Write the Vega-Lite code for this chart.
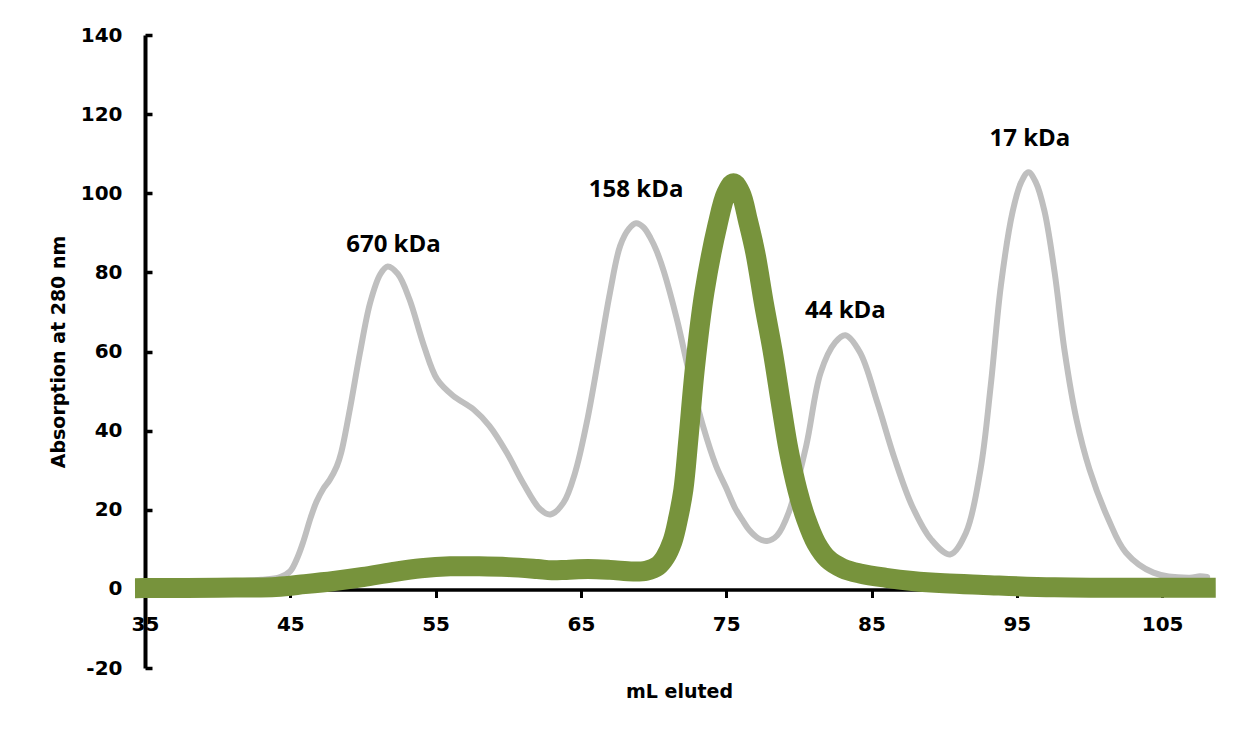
{
  "$schema": "https://vega.github.io/schema/vega-lite/v6.json",
  "autosize": {"type": "none"},
  "padding": {"left": 145, "top": 35, "right": 40, "bottom": 70},
  "width": 1068,
  "height": 633,
  "background": "white",
  "config": {"view": {"stroke": null}},
  "datasets": {
    "standards": [
      {"ml": 35, "a280": 1.5}, {"ml": 40, "a280": 1.8}, {"ml": 43, "a280": 2.3}, {"ml": 44.3, "a280": 3},
      {"ml": 45, "a280": 4.5}, {"ml": 45.5, "a280": 8}, {"ml": 45.9, "a280": 12}, {"ml": 46.4, "a280": 18},
      {"ml": 46.8, "a280": 22}, {"ml": 47.3, "a280": 25.5}, {"ml": 47.7, "a280": 27.5}, {"ml": 48.2, "a280": 31},
      {"ml": 48.5, "a280": 34.4}, {"ml": 49.1, "a280": 45.4}, {"ml": 49.8, "a280": 59.8}, {"ml": 50.5, "a280": 72.4},
      {"ml": 51.2, "a280": 79.6}, {"ml": 51.7, "a280": 81.5}, {"ml": 52.4, "a280": 79.6}, {"ml": 53.2, "a280": 73.2},
      {"ml": 54.2, "a280": 61.4}, {"ml": 55.1, "a280": 53.0}, {"ml": 56.2, "a280": 48.8}, {"ml": 57.6, "a280": 45.4},
      {"ml": 58.7, "a280": 41.2}, {"ml": 59.9, "a280": 34.4}, {"ml": 61.0, "a280": 26.9}, {"ml": 62.2, "a280": 20.1},
      {"ml": 62.9, "a280": 18.8}, {"ml": 63.8, "a280": 21.8}, {"ml": 64.6, "a280": 29.4}, {"ml": 65.4, "a280": 42.0},
      {"ml": 66.2, "a280": 58.1}, {"ml": 67.0, "a280": 74.9}, {"ml": 67.7, "a280": 86.7}, {"ml": 68.3, "a280": 91},
      {"ml": 68.8, "a280": 92.4}, {"ml": 69.3, "a280": 91.4}, {"ml": 69.8, "a280": 88.6}, {"ml": 70.2, "a280": 85.5},
      {"ml": 70.7, "a280": 80.3}, {"ml": 71.6, "a280": 68.2}, {"ml": 72.5, "a280": 53.8}, {"ml": 73.4, "a280": 41.2},
      {"ml": 74.3, "a280": 31.1}, {"ml": 75.0, "a280": 25.5}, {"ml": 75.6, "a280": 20.5}, {"ml": 76.1, "a280": 17.5},
      {"ml": 76.6, "a280": 14.8}, {"ml": 77.2, "a280": 12.8}, {"ml": 77.8, "a280": 12.1}, {"ml": 78.5, "a280": 13.5},
      {"ml": 79.3, "a280": 19.3}, {"ml": 80.5, "a280": 36.1}, {"ml": 81.5, "a280": 54.7}, {"ml": 82.5, "a280": 62.3},
      {"ml": 83.2, "a280": 64.1}, {"ml": 84.2, "a280": 59.8}, {"ml": 85.4, "a280": 47.1}, {"ml": 86.6, "a280": 32.8},
      {"ml": 87.8, "a280": 20.9}, {"ml": 89.1, "a280": 12.5}, {"ml": 90.4, "a280": 8.7}, {"ml": 91.5, "a280": 14.2},
      {"ml": 92.5, "a280": 30.2}, {"ml": 93.2, "a280": 51.3}, {"ml": 93.9, "a280": 76.6}, {"ml": 94.7, "a280": 95.2},
      {"ml": 95.3, "a280": 102.8}, {"ml": 95.8, "a280": 105.3}, {"ml": 96.3, "a280": 102.8}, {"ml": 96.9, "a280": 95.5},
      {"ml": 97.6, "a280": 80}, {"ml": 98.3, "a280": 59.8}, {"ml": 99.1, "a280": 42.9}, {"ml": 100.0, "a280": 30.2},
      {"ml": 101.3, "a280": 17.6}, {"ml": 102.5, "a280": 9.2}, {"ml": 104.4, "a280": 4.1}, {"ml": 106.9, "a280": 2.8},
      {"ml": 107.6, "a280": 3.2}, {"ml": 108.1, "a280": 3.0}
    ],
    "sample": [
      {"ml": 35, "a280": 0.2}, {"ml": 40, "a280": 0.3}, {"ml": 44, "a280": 0.5}, {"ml": 46, "a280": 1.2},
      {"ml": 48, "a280": 2.0}, {"ml": 50, "a280": 3.0}, {"ml": 52, "a280": 4.2}, {"ml": 54, "a280": 5.2},
      {"ml": 56, "a280": 5.7}, {"ml": 58, "a280": 5.7}, {"ml": 60, "a280": 5.5}, {"ml": 62, "a280": 5.0},
      {"ml": 63, "a280": 4.7}, {"ml": 64, "a280": 4.8}, {"ml": 65.5, "a280": 5.0}, {"ml": 67, "a280": 4.8},
      {"ml": 68.6, "a280": 4.4}, {"ml": 69.5, "a280": 4.6}, {"ml": 70.3, "a280": 5.8}, {"ml": 70.8, "a280": 8},
      {"ml": 71.3, "a280": 12}, {"ml": 71.7, "a280": 18}, {"ml": 72.05, "a280": 25}, {"ml": 72.4, "a280": 38},
      {"ml": 72.85, "a280": 56}, {"ml": 73.5, "a280": 75}, {"ml": 74.4, "a280": 92}, {"ml": 75.0, "a280": 100},
      {"ml": 75.5, "a280": 102.5}, {"ml": 76.0, "a280": 100}, {"ml": 76.5, "a280": 93}, {"ml": 77.0, "a280": 85},
      {"ml": 77.6, "a280": 72}, {"ml": 78.2, "a280": 60}, {"ml": 78.8, "a280": 46}, {"ml": 79.3, "a280": 35},
      {"ml": 79.9, "a280": 25}, {"ml": 80.5, "a280": 17.6}, {"ml": 81.2, "a280": 11.5}, {"ml": 82, "a280": 7.5},
      {"ml": 83, "a280": 5.2}, {"ml": 84.2, "a280": 3.9}, {"ml": 86, "a280": 2.8}, {"ml": 87.8, "a280": 2.0},
      {"ml": 90, "a280": 1.4}, {"ml": 92.7, "a280": 1.0}, {"ml": 97.6, "a280": 0.4}, {"ml": 108, "a280": 0.3}
    ],
    "labels": [
      {"ml": 52.1, "a280": 87.0, "label": "670 kDa"},
      {"ml": 68.8, "a280": 100.7, "label": "158 kDa"},
      {"ml": 83.2, "a280": 70.2, "label": "44 kDa"},
      {"ml": 95.9, "a280": 113.6, "label": "17 kDa"}
    ]
  },
  "encoding": {
    "x": {
      "field": "ml", "type": "quantitative",
      "scale": {"domain": [35, 108.5], "nice": false, "zero": false},
      "axis": {
        "title": "mL eluted", "orient": "bottom", "offset": -78.5,
        "values": [35, 45, 55, 65, 75, 85, 95, 105],
        "grid": false, "domainColor": "black", "domainWidth": 3.5,
        "tickColor": "black", "tickWidth": 3, "tickSize": 8,
        "labelFont": "DejaVu Sans", "labelFontWeight": "bold", "labelFontSize": 20, "labelColor": "black",
        "labelPadding": 17, "labelFlush": false,
        "titleFont": "DejaVu Sans", "titleFontWeight": "bold", "titleFontSize": 19, "titleColor": "black",
        "titlePadding": 48
      }
    },
    "y": {
      "field": "a280", "type": "quantitative",
      "scale": {"domain": [-20, 140], "nice": false},
      "axis": {
        "title": "Absorption at 280 nm",
        "values": [-20, 0, 20, 40, 60, 80, 100, 120, 140],
        "labelExpr": "toString(datum.value)",
        "grid": false, "domainColor": "black", "domainWidth": 4,
        "tickColor": "black", "tickWidth": 3.5, "tickSize": -7,
        "labelFont": "DejaVu Sans", "labelFontWeight": "bold", "labelFontSize": 20, "labelColor": "black",
        "labelPadding": 30,
        "titleFont": "DejaVu Sans", "titleFontWeight": "bold", "titleFontSize": 19, "titleColor": "black",
        "titlePadding": 12
      }
    }
  },
  "layer": [
    {
      "data": {"name": "standards"},
      "mark": {"type": "line", "color": "#BFBFBF", "strokeWidth": 6, "interpolate": "catmull-rom", "strokeCap": "round", "strokeJoin": "round"}
    },
    {
      "data": {"name": "sample"},
      "mark": {"type": "line", "color": "#77933C", "strokeWidth": 20, "interpolate": "catmull-rom", "strokeCap": "square", "strokeJoin": "round"}
    },
    {
      "data": {"name": "labels"},
      "mark": {"type": "text", "font": "Open Sans", "fontWeight": "bold", "fontSize": 24, "color": "black", "align": "center", "baseline": "middle"},
      "encoding": {"text": {"field": "label"}}
    }
  ]
}
